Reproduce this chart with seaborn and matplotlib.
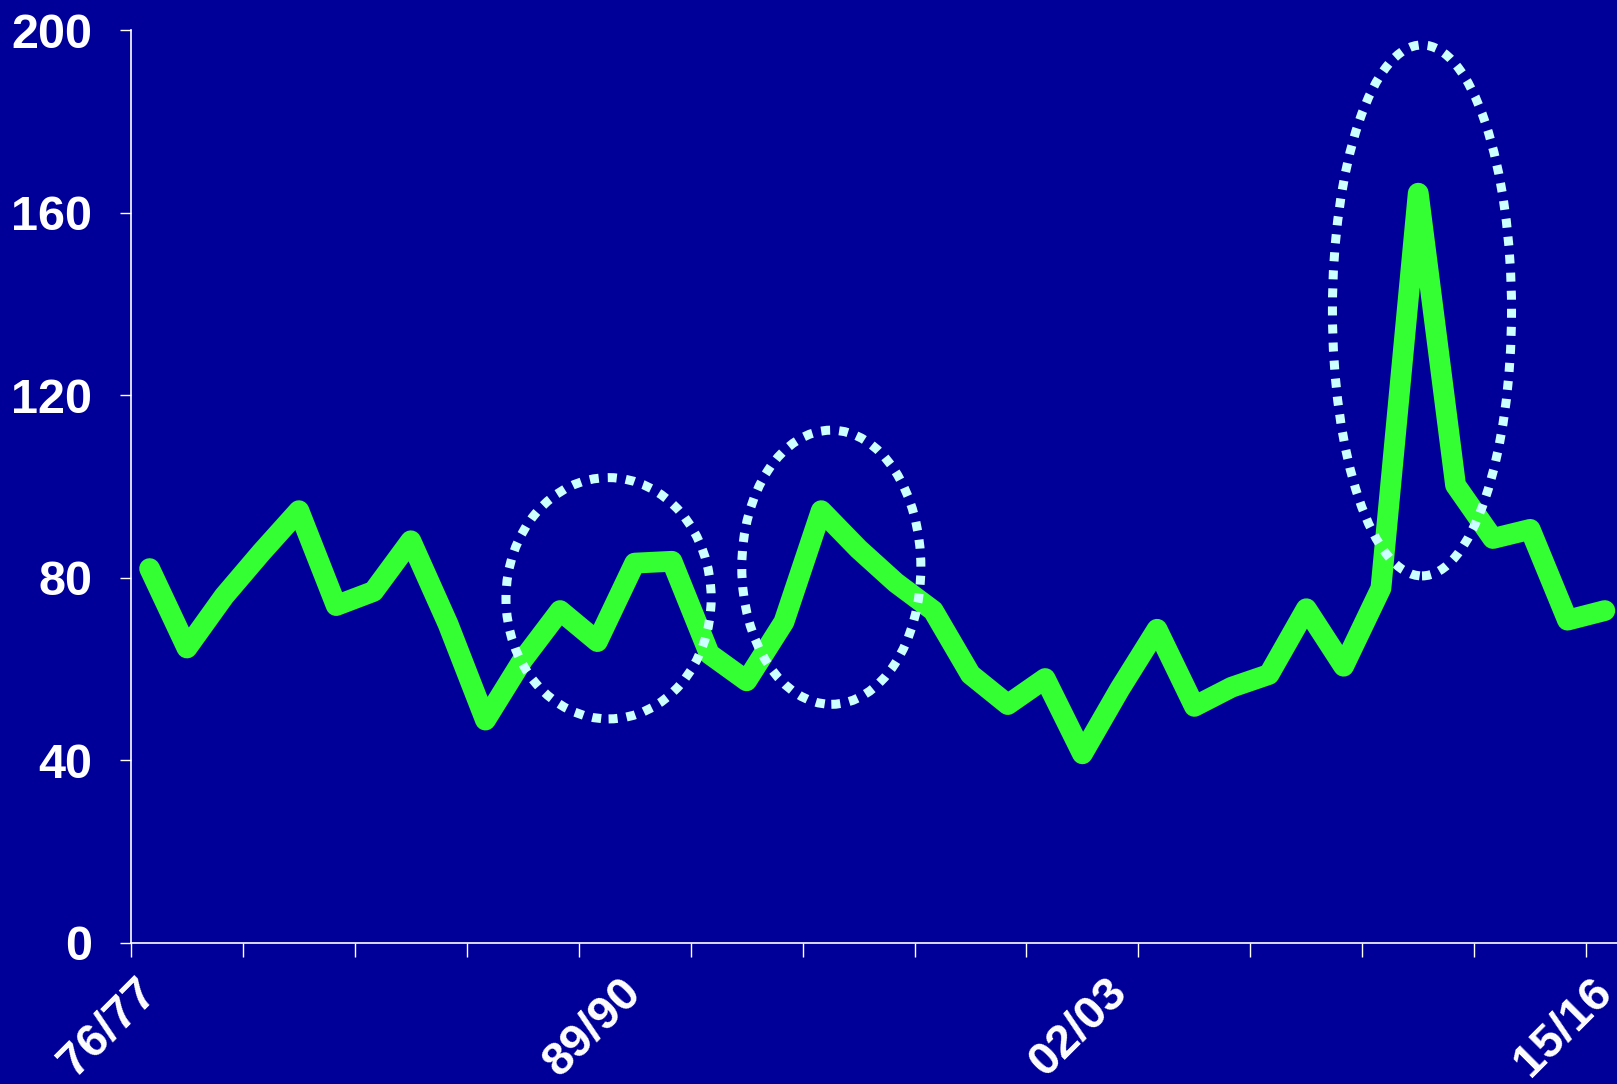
import numpy as np
import pandas as pd
import matplotlib
matplotlib.use("Agg")
import matplotlib.pyplot as plt
from matplotlib.patches import Ellipse
import seaborn as sns

seasons = [f"{y % 100:02d}/{(y + 1) % 100:02d}" for y in range(1976, 2016)]
values = [82, 64.6, 76, 85.6, 94.7, 73.9, 77, 88.1, 69.8, 48.8,
          62, 72.8, 66, 83.2, 83.6, 63.3, 57.4, 70.3, 94.7, 86.3,
          78.9, 72.8, 58.8, 52.2, 57.9, 41.4, 55.6, 68.7, 51.8, 56,
          58.8, 73.2, 60.6, 77.7, 164.3, 100.3, 88.6, 90.6, 70.7, 72.8]
label_seasons = ["76/77", "89/90", "02/03", "15/16"]
y_ticks = [0, 40, 80, 120, 160, 200]

# highlighted periods: (centre season, centre value, width in seasons, height in values)
highlights = [(12.3, 75.5, 5.5, 52.9),
              (18.27, 82.3, 4.8, 60.1),
              (34.1, 138.6, 4.8, 116.4)]

df = pd.DataFrame({"idx": np.arange(len(seasons)), "season": seasons, "value": values})

BG = "#000099"
sns.set_style("white")
plt.rcParams["font.family"] = ["Liberation Sans", "DejaVu Sans"]

fig = plt.figure(figsize=(16.17, 10.84), dpi=100, facecolor=BG)
ax = fig.add_axes([0.081, 0.1304, 0.923, 0.8416])
ax.set_facecolor(BG)

sns.lineplot(data=df, x="idx", y="value", ax=ax, color="#33FF33", linewidth=15,
             solid_joinstyle="round", solid_capstyle="round", zorder=3)

for cx, cy, w, h in highlights:
    ax.add_patch(Ellipse((cx, cy), w, h, fill=False, edgecolor="#CCFFFF",
                         linewidth=6.5, linestyle=(0, (1, 1)), zorder=4))

ax.set_xlim(-0.5, len(seasons) - 0.5)
ax.set_ylim(0, 200)
ax.set_yticks(y_ticks)
ax.set_yticklabels([str(t) for t in y_ticks])

pos = [seasons.index(s) for s in label_seasons]
ax.set_xticks(pos)
ax.set_xticklabels(label_seasons, rotation=45, ha="right", va="center", rotation_mode="anchor")
ax.set_xticks(np.arange(-0.5, len(seasons), 3), minor=True)

ax.tick_params(axis="both", which="both", bottom=True, left=True)
ax.tick_params(axis="x", which="major", length=0, pad=31, labelsize=34, labelcolor="white")
ax.tick_params(axis="x", which="minor", length=10, width=1, color="white", direction="out")
ax.tick_params(axis="y", length=8, width=1, color="white", pad=20, labelsize=35, labelcolor="white")
for lab in ax.get_xticklabels() + ax.get_yticklabels():
    lab.set_fontweight("bold")

for side in ["top", "right"]:
    ax.spines[side].set_visible(False)
for side in ["left", "bottom"]:
    ax.spines[side].set_color("white")
    ax.spines[side].set_linewidth(1.2)

ax.set_xlabel("")
ax.set_ylabel("")
ax.grid(False)

fig.savefig("out.png", dpi=100, facecolor=BG)
